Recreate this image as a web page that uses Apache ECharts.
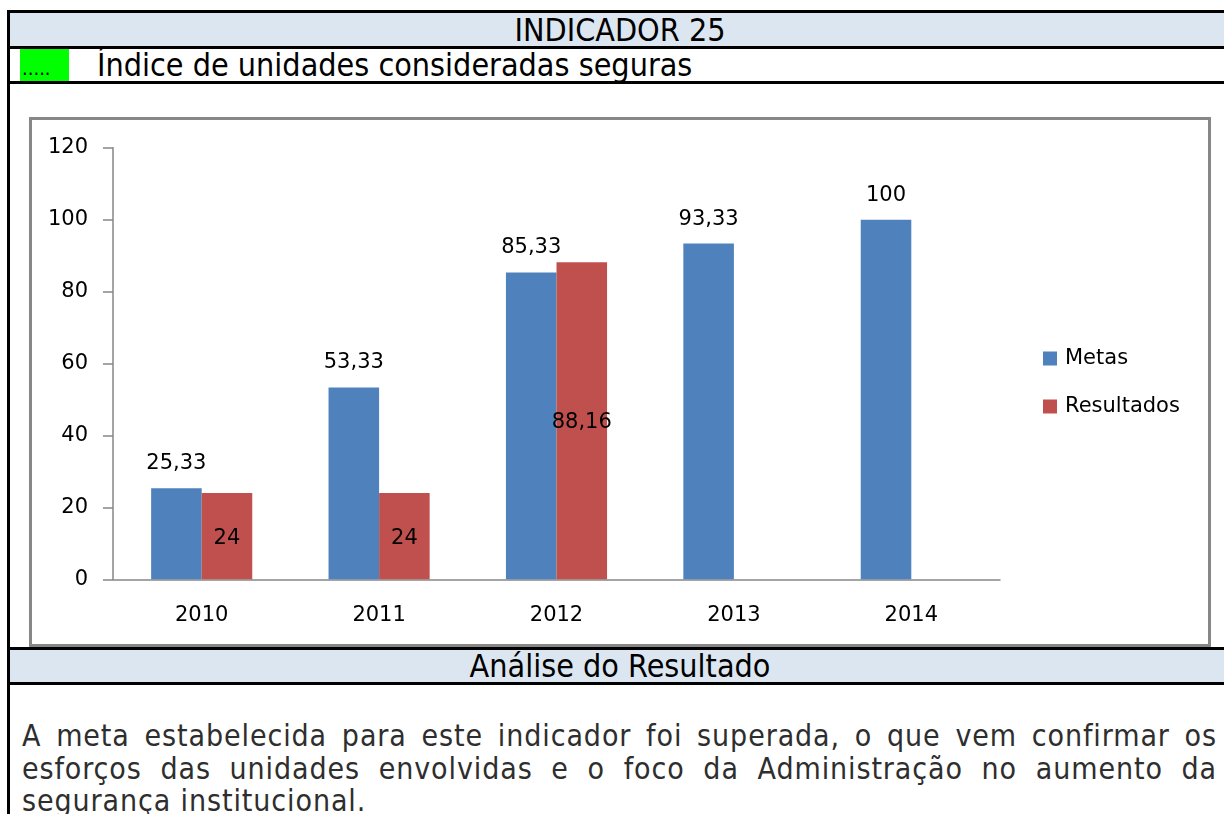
<!DOCTYPE html>
<html>
<head>
<meta charset="utf-8">
<script src="https://cdn.jsdelivr.net/npm/echarts@6/dist/echarts.min.js"></script>
<style>
  html, body { margin: 0; padding: 0; background: #fff; }
  body { width: 1224px; height: 814px; position: relative; overflow: hidden; font-family: "DejaVu Sans Condensed", "DejaVu Sans", sans-serif; }
  .abs { position: absolute; }
  .hline { position: absolute; left: 7px; width: 1240px; height: 3px; background: #000; }
  .band { position: absolute; left: 10px; width: 1230px; background: #dce6f1; }
  .head { position: absolute; left: 10px; width: 1220px; text-align: center; color: #000; white-space: nowrap; }
  #chartBox { position: absolute; left: 29px; top: 117px; width: 1176px; height: 524px; border: 3px solid #878787; }
  #chart { position: absolute; left: 0; top: 0; width: 1224px; height: 814px; }
  .para { position: absolute; left: 22px; width: 1195px; font-size: 30px; letter-spacing: 0.9px; color: #2e2e2e; }
  .para div { height: 32.5px; line-height: 32.5px; white-space: nowrap; }
  .para div.j { text-align: justify; text-align-last: justify; white-space: normal; }
</style>
</head>
<body>
<!-- moldura da tabela -->
<div class="abs" style="left:7px;top:10px;width:3px;height:820px;background:#000"></div>
<div class="band" style="top:13px;height:33px"></div>
<div class="hline" style="top:10px"></div>
<div class="hline" style="top:46px"></div>
<div class="head" style="top:13px;height:33px;line-height:34px;font-size:32px">INDICADOR 25</div>

<div class="abs" style="left:20px;top:49px;width:49px;height:32px;background:#00ff00"></div>
<div class="abs" style="left:22px;top:49px;height:32px;line-height:38px;font-size:20px;color:#000">.....</div>
<div class="abs" style="left:97px;top:49px;height:32px;line-height:32px;font-size:32px;color:#000;white-space:nowrap">Índice de unidades consideradas seguras</div>
<div class="hline" style="top:81px"></div>

<div id="chartBox"></div>

<div class="band" style="top:650px;height:32px"></div>
<div class="hline" style="top:647px"></div>
<div class="hline" style="top:682px"></div>
<div class="head" style="top:650px;height:32px;line-height:33px;font-size:32px">Análise do Resultado</div>

<div class="para" style="top:720px">
  <div class="j">A meta estabelecida para este indicador foi superada, o que vem confirmar os</div>
  <div class="j">esforços das unidades envolvidas e o foco da Administração no aumento da</div>
  <div>segurança institucional.</div>
</div>

<div id="chart"></div>

<script>
// dados do indicador
const anos = ['2010', '2011', '2012', '2013', '2014'];
const metas = [25.33, 53.33, 85.33, 93.33, 100];
const resultados = [24, 24, 88.16, null, null];
const eixoY = { min: 0, max: 120, interval: 20 };

const fonte = '"DejaVu Sans", sans-serif';
const cinza = '#868686';

// rótulo no formato brasileiro (vírgula decimal)
function formata(v) {
  return String(v).replace('.', ',');
}

const chart = echarts.init(document.getElementById('chart'), null, { renderer: 'canvas' });

chart.setOption({
  animation: false,
  textStyle: { fontFamily: fonte },
  grid: { left: 113, top: 147.7, width: 887, height: 431.6, containLabel: false },
  legend: {
    orient: 'vertical',
    left: 1043,
    top: 348,
    padding: 0,
    itemWidth: 14,
    itemHeight: 14,
    itemGap: 27,
    icon: 'rect',
    textStyle: { fontFamily: fonte, fontSize: 21, color: '#000', padding: [0, 0, 0, 3] },
    data: ['Metas', 'Resultados']
  },
  xAxis: {
    type: 'category',
    data: anos,
    axisLine: { lineStyle: { color: cinza, width: 1.5 } },
    axisTick: { length: 8, lineStyle: { color: cinza, width: 1.5 } },
    axisLabel: { color: '#000', fontSize: 21, margin: 26, fontFamily: fonte }
  },
  yAxis: {
    type: 'value',
    min: eixoY.min,
    max: eixoY.max,
    interval: eixoY.interval,
    axisLine: { show: true, lineStyle: { color: cinza, width: 1.5 } },
    axisTick: { show: true, length: 10, lineStyle: { color: cinza, width: 1.5 } },
    splitLine: { show: false },
    axisLabel: { color: '#000', fontSize: 21, margin: 25, fontFamily: fonte }
  },
  series: [
    {
      name: 'Metas',
      type: 'bar',
      data: metas,
      barGap: '0%',
      barCategoryGap: '43%',
      itemStyle: { color: '#4f81bd' },
      label: {
        show: true,
        position: 'top',
        distance: 14,
        color: '#000',
        fontSize: 21,
        fontFamily: fonte,
        formatter: p => formata(p.value)
      }
    },
    {
      name: 'Resultados',
      type: 'bar',
      data: resultados,
      itemStyle: { color: '#c0504d' },
      label: {
        show: true,
        position: 'inside',
        offset: [0, 2],
        color: '#000',
        fontSize: 21,
        fontFamily: fonte,
        formatter: p => formata(p.value)
      }
    }
  ]
});
</script>
</body>
</html>
